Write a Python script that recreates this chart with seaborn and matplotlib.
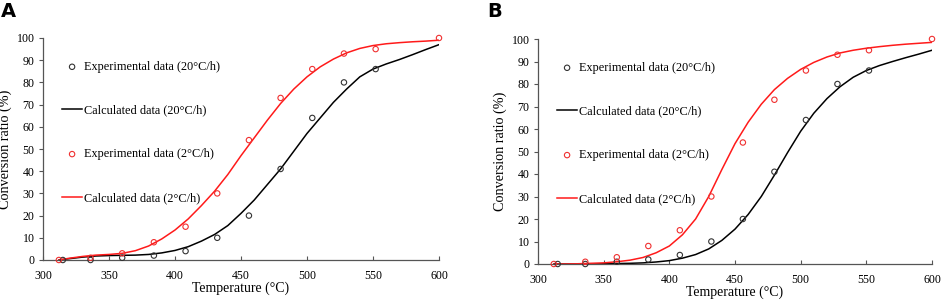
import matplotlib
matplotlib.use("Agg")
import matplotlib.pyplot as plt
import seaborn as sns

# Experimental points (same in both panels)
temp_exp_20 = [315, 336, 360, 384, 408, 432, 456, 480, 504, 528, 552]
conv_exp_20 = [0, 0, 1, 2, 4, 10, 20, 41, 64, 80, 86]
temp_exp_2 = [312, 336, 360, 384, 408, 432, 456, 480, 504, 528, 552, 600]
conv_exp_2 = [0, 1, 3, 8, 15, 30, 54, 73, 86, 93, 95, 100]

# Calculated curves, panel A
temp_calc = [312, 320, 330, 340, 350, 360, 370, 380, 390, 400, 410, 420, 430, 440, 450,
             460, 470, 480, 490, 500, 510, 520, 530, 540, 550, 560, 570, 580, 590, 600]
calc_a_20 = [0, 0.6, 1.3, 1.8, 2.0, 2.1, 2.2, 2.5, 3.2, 4.3, 6.0, 8.5, 11.5, 15.5, 21,
             27, 34, 41, 49, 57, 64, 71, 77, 82.5, 86, 88.3, 90.3, 92.5, 94.8, 97]
calc_a_2 = [0, 0.8, 1.6, 2.2, 2.5, 3.0, 4.2, 6.3, 9.5, 13.5, 18.5, 24.5, 31, 38.5, 47,
            55, 63, 70.5, 77, 82.5, 87, 90.5, 93.3, 95.3, 96.6, 97.4, 97.9, 98.3, 98.6, 99]
# Calculated curves, panel B
calc_b_20 = [0, 0, 0, 0, 0.1, 0.2, 0.3, 0.5, 0.9, 1.5, 2.6, 4.2, 6.7, 10.5, 15.5,
             22, 30, 39.5, 49.5, 59, 67, 73.5, 78.8, 83, 86, 88.2, 90, 91.7, 93.3, 95]
calc_b_2 = [0, 0, 0.1, 0.3, 0.5, 1.0, 1.7, 2.9, 5.0, 8.0, 13, 20, 30, 42, 53.5,
            63, 71, 77.5, 82.5, 86.5, 89.6, 92, 93.8, 95, 95.9, 96.6, 97.2, 97.7, 98.1, 98.5]

panel_titles = ["A", "B"]
calc_curves = [(calc_a_20, calc_a_2), (calc_b_20, calc_b_2)]

plt.rcParams["font.family"] = ["Liberation Serif", "DejaVu Serif"]

W, H = 941, 301
fig = plt.figure(figsize=(W / 100, H / 100), dpi=100)
# axes boxes in pixels: left, right, top, bottom
boxes = [(43, 439, 38, 260), (538, 932, 39, 264)]
label_pos = [(1, 2), (487, 2)]

for (l, r, t, b), (lx, ly), title, (c20, c2) in zip(boxes, label_pos, panel_titles, calc_curves):
    ax = fig.add_axes([l / W, (H - b) / H, (r - l) / W, (b - t) / H])
    sns.scatterplot(x=temp_exp_20, y=conv_exp_20, ax=ax, marker="o", s=15,
                    facecolor="none", edgecolor="#333333", linewidth=0.8,
                    label="Experimental data (20\u00b0C/h)", zorder=3, clip_on=False)
    sns.lineplot(x=temp_calc, y=c20, ax=ax, color="black", linewidth=1.1,
                 label="Calculated data (20\u00b0C/h)", sort=False)
    sns.scatterplot(x=temp_exp_2, y=conv_exp_2, ax=ax, marker="o", s=15,
                    facecolor="none", edgecolor="#f03030", linewidth=0.8,
                    label="Experimental data (2\u00b0C/h)", zorder=3, clip_on=False)
    sns.lineplot(x=temp_calc, y=c2, ax=ax, color="#ff1a1a", linewidth=1.1,
                 label="Calculated data (2\u00b0C/h)", sort=False)

    ax.set_xlim(300, 600)
    ax.set_ylim(0, 100)
    ax.set_xticks(range(300, 601, 50))
    ax.set_yticks(range(0, 101, 10))
    ax.set_xlabel("Temperature (\u00b0C)", fontsize=10, labelpad=0)
    ax.set_ylabel("Conversion ratio (%)", fontsize=10.2, labelpad=3)
    ax.tick_params(axis="x", direction="in", length=3, labelsize=8.6, pad=7, color="#555555")
    ax.tick_params(axis="y", direction="out", length=3, labelsize=8.6, pad=3, color="#555555")
    ax.spines["top"].set_visible(False)
    ax.spines["right"].set_visible(False)
    for sp in ("left", "bottom"):
        ax.spines[sp].set_color("#555555")
        ax.spines[sp].set_linewidth(0.9)

    ax.legend(loc="upper left", bbox_to_anchor=(19 / (r - l), 1 - (23 / (b - t))),
              frameon=False, fontsize=8.8, labelspacing=2.59, handlelength=1.65,
              handletextpad=0.15, borderaxespad=0, borderpad=0)

    fig.text(lx / W, 1 - ly / H, title, fontsize=14, fontweight="bold",
             family="DejaVu Sans", va="top", ha="left")

fig.savefig("out.png", dpi=100)
